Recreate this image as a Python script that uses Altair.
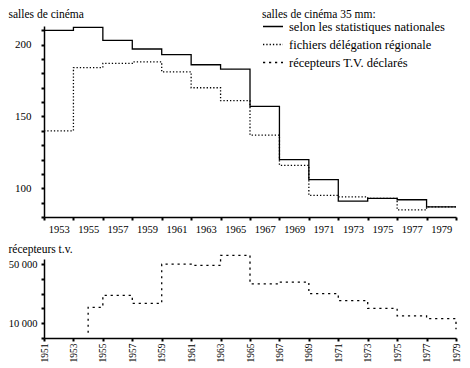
import altair as alt
import pandas as pd

FONT = "Liberation Serif, DejaVu Serif, serif"

series_names = [
    "selon les statistiques nationales",
    "fichiers délégation régionale",
    "récepteurs T.V. déclarés",
]

years_top = [1951, 1953, 1955, 1957, 1959, 1961, 1963, 1965, 1967, 1969, 1971, 1973, 1975, 1977, 1979]
nationales = [210, 212, 203, 197, 193, 186, 183, 157, 120, 106, 91, 93, 92, 87, 87]
regionale = [140, 184, 187, 188, 181, 170, 161, 137, 116, 95, 94, 93, 85, 87, 87]

years_tv = [1954, 1954, 1955, 1957, 1959, 1961, 1963, 1965, 1967, 1969, 1971, 1973, 1975, 1977, 1979]
recepteurs = [3500, 20800, 28900, 23500, 50000, 49200, 56000, 36600, 37900, 30000, 25300, 20000, 15000, 13100, 6000]

tick_years = list(range(1951, 1980, 2))
top_y_ticks = list(range(80, 211, 10))
tv_y_ticks = [0, 10000, 20000, 30000, 40000, 50000]

top_df = pd.DataFrame({
    "year": years_top + years_top,
    "value": nationales + regionale,
    "series": [series_names[0]] * len(years_top) + [series_names[1]] * len(years_top),
})
tv_df = pd.DataFrame({
    "year": years_tv,
    "value": recepteurs,
    "series": [series_names[2]] * len(years_tv),
})

dash_scale = alt.Scale(domain=series_names, range=[[1, 0], [1.3, 2], [2.2, 3.8]])
width_scale = alt.Scale(domain=series_names, range=[1.3, 1.3, 2.5])

legend = alt.Legend(
    title="salles de cinéma 35 mm:",
    orient="none",
    legendX=218,
    legendY=-17,
    symbolType="stroke",
    symbolSize=400,
    symbolStrokeColor="black",
    labelFont=FONT,
    labelFontSize=12.5,
    labelColor="black",
    labelLimit=300,
    labelOffset=5,
    titleFont=FONT,
    titleFontSize=11.5,
    titleFontWeight="normal",
    titleColor="black",
    titlePadding=-5,
    rowPadding=-5.5,
)

xs = alt.Scale(domain=[1951, 1979], nice=False, zero=False)

top = alt.Chart(top_df).mark_line(interpolate="step-after", color="black").encode(
    x=alt.X("year:Q", scale=xs, axis=alt.Axis(
        values=tick_years, title=None,
        labelExpr="datum.value < 1952 ? '' : '' + datum.value",
        labelOffset=-14.7, labelFlush=False, labelOverlap=False,
        labelFontSize=10.5, labelPadding=4)),
    y=alt.Y("value:Q", scale=alt.Scale(domain=[80, 213], nice=False, zero=False), axis=alt.Axis(
        values=top_y_ticks,
        labelExpr="datum.value % 50 == 0 ? '' + datum.value : ''",
        labelFontSize=11, labelPadding=10,
        title="salles de cinéma", titleAngle=0, titleAlign="left",
        titleBaseline="alphabetic", titleX=-36, titleY=-9, titleFontSize=11.5)),
    strokeDash=alt.StrokeDash("series:N", scale=dash_scale, legend=legend),
    strokeWidth=alt.StrokeWidth("series:N", scale=width_scale, legend=legend),
).properties(width=412, height=191)

bottom = alt.Chart(tv_df).mark_line(interpolate="step-after", color="black").encode(
    x=alt.X("year:Q", scale=xs, axis=alt.Axis(
        values=tick_years, title=None,
        labelExpr="'' + datum.value",
        labelAngle=270, labelAlign="right", labelBaseline="middle",
        labelFlush=False, labelOverlap=False,
        labelFontSize=9.5, labelPadding=2)),
    y=alt.Y("value:Q", scale=alt.Scale(domain=[0, 53500], nice=False), axis=alt.Axis(
        values=tv_y_ticks,
        labelExpr="datum.value == 10000 ? '10 000' : datum.value == 50000 ? '50 000' : ''",
        labelFontSize=10.5, labelPadding=4,
        title="récepteurs t.v.", titleAngle=0, titleAlign="left",
        titleBaseline="alphabetic", titleX=-36, titleY=-7, titleFontSize=11.5)),
    strokeDash=alt.StrokeDash("series:N", scale=dash_scale, legend=legend),
    strokeWidth=alt.StrokeWidth("series:N", scale=width_scale, legend=legend),
).properties(width=412, height=79)

chart = alt.vconcat(top, bottom, spacing=42, bounds="flush").resolve_scale(
    strokeDash="shared", strokeWidth="shared"
).properties(padding=0).configure_axis(
    domainColor="black", domainWidth=1.5,
    tickColor="black", tickWidth=2, tickSize=3,
    labelFont=FONT, labelColor="black",
    titleFont=FONT, titleColor="black", titleFontWeight="normal",
    grid=False,
).configure_view(stroke=None)

chart.save("out.html", embed_options={"renderer": "svg", "actions": False})
